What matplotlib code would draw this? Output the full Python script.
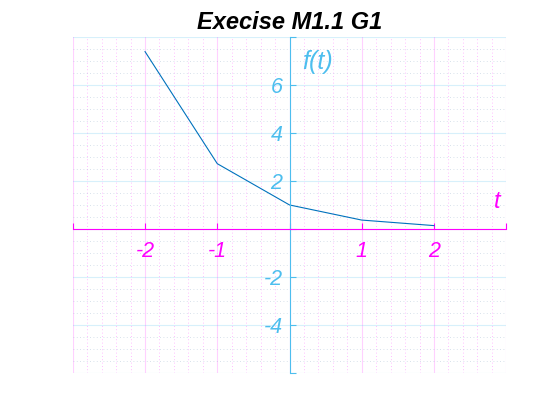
import matplotlib
matplotlib.use("Agg")
import matplotlib.pyplot as plt
from matplotlib.ticker import MultipleLocator

plt.rcParams['font.family'] = ['Liberation Sans', 'DejaVu Sans']

# data
t = [-2, -1, 0, 1, 2]
f = [7.39, 2.72, 1.0, 0.37, 0.14]

x_ticks = [-3, -2, -1, 0, 1, 2, 3]
x_labels = ['', '-2', '-1', '', '1', '2', '']
y_ticks = [-6, -4, -2, 0, 2, 4, 6, 8]
y_labels = ['', '-4', '-2', '', '2', '4', '6', '']

magenta = '#FF00FF'
cyan = '#4DBEEE'
line_blue = '#0072BD'

fig = plt.figure(figsize=(5.6, 4.2), dpi=100)
ax = fig.add_axes([0.130, 0.112, 0.774, 0.800])

ax.plot(t, f, color=line_blue, linewidth=0.8)

ax.set_xlim(-3, 3)
ax.set_ylim(-6, 8)

# axes through the origin
ax.spines['left'].set_position('zero')
ax.spines['bottom'].set_position('zero')
ax.spines['right'].set_visible(False)
ax.spines['top'].set_visible(False)
ax.spines['bottom'].set_color(magenta)
ax.spines['left'].set_color(cyan)

ax.set_xticks(x_ticks)
ax.set_xticklabels(x_labels)
ax.set_yticks(y_ticks)
ax.set_yticklabels(y_labels)
ax.xaxis.set_minor_locator(MultipleLocator(0.2))
ax.yaxis.set_minor_locator(MultipleLocator(0.5))

ax.tick_params(axis='x', which='major', direction='in', length=4, color=magenta,
               labelcolor=magenta, labelsize=15.5, pad=9)
ax.tick_params(axis='y', which='major', direction='in', length=4, color=cyan,
               labelcolor=cyan, labelsize=15.5, pad=5)
ax.tick_params(which='minor', length=0)
for lab in ax.get_xticklabels() + ax.get_yticklabels():
    lab.set_fontstyle('italic')

# grids
ax.xaxis.grid(True, which='major', color=magenta, alpha=0.18, linewidth=0.8)
ax.xaxis.grid(True, which='minor', color=magenta, alpha=0.35, linestyle=(0, (1, 3)), linewidth=0.6)
ax.yaxis.grid(True, which='major', color=cyan, alpha=0.22, linewidth=0.8)
ax.yaxis.grid(True, which='minor', color='#7f9fbf', alpha=0.4, linestyle=(0, (1, 3)), linewidth=0.6)
ax.set_axisbelow(True)

ax.text(2.87, 0.68, 't', color=magenta, fontsize=17, fontstyle='italic', ha='center', va='bottom')
ax.text(0.17, 6.95, 'f(t)', color=cyan, fontsize=18, fontstyle='italic', ha='left', va='center')

ax.set_title('Execise M1.1 G1', fontsize=17, fontweight='bold', fontstyle='italic', pad=6)

fig.savefig('out.png', dpi=100)
